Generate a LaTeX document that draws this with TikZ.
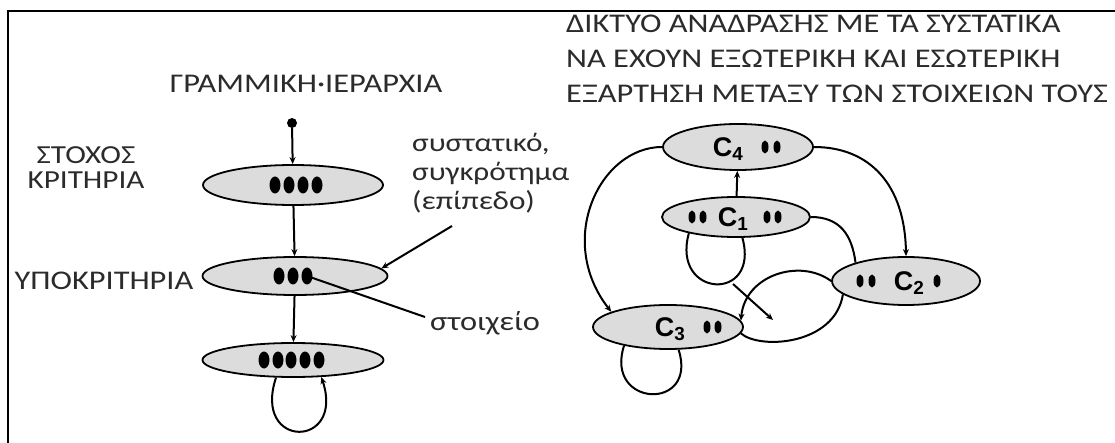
\documentclass[tikz,border=0pt]{standalone}
\usepackage{fontspec}
\setmainfont[FakeStretch=1.2]{Carlito}
\newfontfamily\labelsans{Liberation Sans}
\usetikzlibrary{arrows.meta,calc,positioning,shapes.geometric}
\definecolor{netInk}{HTML}{2B2B2B}
\definecolor{netFill}{HTML}{DCDCDC}
\tikzset{
  level/.style={ellipse, draw, line width=1.8pt, fill=netFill, inner sep=0pt},
  bigdot/.style={ellipse, fill=black, inner sep=0pt, minimum width=11pt, minimum height=17pt},
  smalldot/.style={ellipse, fill=black, inner sep=0pt, minimum width=7pt, minimum height=13pt},
  lbl/.style={text=netInk, font=\fontsize{27}{27}\selectfont, inner sep=0pt},
  clbl/.style={font=\labelsans\bfseries\fontsize{27}{28}\selectfont, inner sep=0pt},
  arr/.style={line width=2pt, -{Stealth[length=7pt,width=6pt]}},
  wire/.style={line width=2pt}
}

\begin{document}
\begin{tikzpicture}[x=1pt,y=-1pt]
    \useasboundingbox (0,0) rectangle (1115,443);
    \draw[line width=2.6pt] (8,443) -- (8,11) -- (1115,11);
    % linear hierarchy
    \node[lbl] (hiertitle) at (306,84) {ΓΡΑΜΜΙΚΗ·ΙΕΡΑΡΧΙΑ};
    \node[circle, fill=black, inner sep=0pt, minimum size=10pt] (top) at (292,123) {};
    \node[level, minimum width=180pt, minimum height=40pt] (goal) at (293,185) {};
    \node[level, minimum width=185pt, minimum height=38pt] (sub) at (295,276) {};
    \node[level, minimum width=181pt, minimum height=34pt] (alt) at (293,360) {};
    \foreach \x [count=\i] in {275,289,303,317} \node[bigdot] (goal-\i) at (\x,185) {};
    \foreach \x [count=\i] in {279,293,307} \node[bigdot] (sub-\i) at (\x,276) {};
    \foreach \x [count=\i] in {264,278,291,305,319} \node[bigdot] (alt-\i) at (\x,360) {};
    \draw[arr] (top) -- (goal);
    \draw[arr] (goal) -- (sub);
    \draw[arr] (sub) -- (alt);
    \draw[arr] (alt.226) .. controls +(-24,72) and +(24,72) .. (alt.329);
    \node[lbl, align=center, font=\fontsize{26}{25}\selectfont] (goaltxt) at (86,168) {ΣΤΟΧΟΣ\\ΚΡΙΤΗΡΙΑ};
    \node[lbl] (subtxt) at (104,281) {ΥΠΟΚΡΙΤΗΡΙΑ};
    \node[lbl, align=left, anchor=north west, font=\fontsize{26}{29}\selectfont] (lvltxt) at (412,133) {συστατικό,\\συγκρότημα\\(επίπεδο)};
    \node[lbl, anchor=base west] (elemtxt) at (430,330) {στοιχείο};
    \coordinate (lvlnote) at (452,226);
    \coordinate (elemnote) at (425,317);
    \draw[arr] (lvlnote) -- (sub.5);
    \draw[wire] (sub-3.center) -- (elemnote);
    % feedback network
    \node[lbl, align=left, anchor=north west, font=\fontsize{27}{35}\selectfont] (nettitle) at (566,15) {ΔΙΚΤΥΟ ΑΝΑΔΡΑΣΗΣ ΜΕ ΤΑ ΣΥΣΤΑΤΙΚΑ\\ΝΑ ΕΧΟΥΝ ΕΞΩΤΕΡΙΚΗ ΚΑΙ ΕΣΩΤΕΡΙΚΗ\\ΕΞΑΡΤΗΣΗ ΜΕΤΑΞΥ ΤΩΝ ΣΤΟΙΧΕΙΩΝ ΤΟΥΣ};
    \node[level, minimum width=150pt, minimum height=46pt] (c4) at (738,147) {};
    \node[level, minimum width=148pt, minimum height=40pt] (c1) at (736,217) {};
    \node[level, minimum width=148pt, minimum height=48pt] (c2) at (906,281) {};
    \node[level, minimum width=150pt, minimum height=44pt] (c3) at (668,327) {};
    \node[clbl] (c4txt) at (728,149) {C\textsubscript{4}};
    \node[clbl] (c1txt) at (733,219) {C\textsubscript{1}};
    \node[clbl] (c2txt) at (909,283) {C\textsubscript{2}};
    \node[clbl] (c3txt) at (670,329) {C\textsubscript{3}};
    \foreach \x in {765,777} \node[smalldot] at (\x,147) {};
    \foreach \x in {692,703,767,778} \node[smalldot] at (\x,217) {};
    \foreach \x in {860,872,937} \node[smalldot] at (\x,281) {};
    \foreach \x in {707,718} \node[smalldot] at (\x,327) {};
    \draw[arr] (c1) -- (c4);
    \draw[arr] (c4.west) .. controls (600,147) and (555,240) .. (c3.165);
    \draw[arr] (c4.east) .. controls (870,147) and (905,185) .. (c2.north);
    \draw[wire] (c1.east) .. controls (840,217) and (852,235) .. (c2.160);
    \draw[wire] (c1.199) .. controls +(-18,65) and +(18,65) .. (c1.287);
    \draw[wire] (c3.203) .. controls +(-20,62) and +(20,62) .. (c3.295);
    \draw[arr] (c2.west) .. controls (800,258) and (745,275) .. (c3.5);
    \draw[wire] (c2.192) .. controls (835,345) and (760,350) .. (c3.-5);
    \coordinate (crossA) at (733,284);
    \coordinate (crossB) at (773,320);
    \draw[arr] (crossA) -- (crossB);
\end{tikzpicture}
\end{document}
